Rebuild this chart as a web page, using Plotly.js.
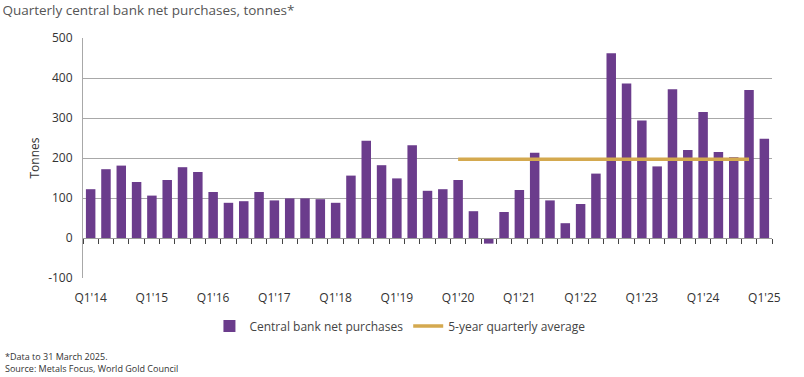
<!DOCTYPE html>
<html>
<head>
<meta charset="utf-8">
<script src="https://cdn.plot.ly/plotly-3.0.1.min.js"></script>
<style>html,body{margin:0;padding:0;background:#fff;}#chart{width:804px;height:377px;}</style>
</head>
<body>
<div id="chart"></div>
<script>
const quarters = [
 "Q1'14","Q2'14","Q3'14","Q4'14","Q1'15","Q2'15","Q3'15","Q4'15",
 "Q1'16","Q2'16","Q3'16","Q4'16","Q1'17","Q2'17","Q3'17","Q4'17",
 "Q1'18","Q2'18","Q3'18","Q4'18","Q1'19","Q2'19","Q3'19","Q4'19",
 "Q1'20","Q2'20","Q3'20","Q4'20","Q1'21","Q2'21","Q3'21","Q4'21",
 "Q1'22","Q2'22","Q3'22","Q4'22","Q1'23","Q2'23","Q3'23","Q4'23",
 "Q1'24","Q2'24","Q3'24","Q4'24","Q1'25"
];
const purchases = [
 122, 172, 181, 140, 106, 145, 177, 165,
 115, 88, 92, 115, 94, 99, 99, 97,
 88, 156, 243, 182, 149, 232, 118, 122,
 145, 67, -14, 65, 120, 213, 94, 37,
 85, 161, 462, 386, 294, 179, 372, 220,
 315, 215, 202, 370, 248
];
const avgQuarters = [
 "Q1'20","Q2'20","Q3'20","Q4'20","Q1'21","Q2'21","Q3'21","Q4'21",
 "Q1'22","Q2'22","Q3'22","Q4'22","Q1'23","Q2'23","Q3'23","Q4'23",
 "Q1'24","Q2'24","Q3'24","Q4'24"
];
const avgValues = [
 197,197,197,197,197,197,197,197,197,197,
 197,197,197,197,197,197,197,197,197,197
];
const tickLabels = ["Q1'14","Q1'15","Q1'16","Q1'17","Q1'18","Q1'19","Q1'20","Q1'21","Q1'22","Q1'23","Q1'24","Q1'25"];
const yTickVals = [-100,0,100,200,300,400,500];
const yTickText = ["-100","0","100","200","300","400","500"];

const idx = q => quarters.indexOf(q);
const xBars = quarters.map((q,i)=>i);
const xAvg = avgQuarters.map(idx);
const tickVals = tickLabels.map(idx);
const boundaries = quarters.map((q,i)=>i-0.5).concat([quarters.length-0.5]);

const font = "'Open Sans', sans-serif";
const traces = [
 {type:'bar', x:xBars, y:purchases, name:'Central bank net purchases',
  marker:{color:'#6b3c8c'}, hoverinfo:'y'},
 {type:'scatter', mode:'lines', x:xAvg, y:avgValues, xaxis:'x2',
  name:'5-year quarterly average', line:{color:'#d4a94f', width:3.5}}
];
const xr = [-0.5, quarters.length-0.5];
const layout = {
 width:804, height:377,
 margin:{l:83, r:32, t:38, b:99},
 paper_bgcolor:'#fff', plot_bgcolor:'#fff',
 font:{family:font, color:'#333', size:12},
 bargap:0.38,
 showlegend:true,
 title:{text:'Quarterly central bank net purchases, tonnes*', x:0.003, xanchor:'left', y:0.985, yanchor:'top',
  font:{family:font, size:13.5, color:'#555'}},
 xaxis:{range:xr, tickmode:'array', tickvals:tickVals, ticktext:tickLabels,
  showgrid:false, zeroline:false, showline:false, ticks:'outside', ticklen:9, tickcolor:'rgba(0,0,0,0)',
  tickfont:{family:font, size:12, color:'#333'}, fixedrange:true},
 xaxis2:{range:xr, overlaying:'x', anchor:'free', position:1/6,
  tickmode:'array', tickvals:boundaries, showticklabels:false,
  ticks:'outside', ticklen:5, tickcolor:'#444', tickwidth:1,
  showline:true, linecolor:'#999', linewidth:1, showgrid:false, zeroline:false},
 yaxis:{range:[-100,500], tickmode:'array', tickvals:yTickVals, ticktext:yTickText,
  showgrid:true, gridcolor:'#a8a8a8', gridwidth:1, zeroline:false,
  showline:true, linecolor:'#a8a8a8', linewidth:1, ticks:'outside', ticklen:7, tickcolor:'rgba(0,0,0,0)',
  tickfont:{family:font, size:12, color:'#333'},
  title:{text:'Tonnes', font:{family:font, size:12, color:'#333'}, standoff:5}},
 legend:{orientation:'h', x:0.46, xanchor:'center', y:-0.14, yanchor:'top',
  font:{family:font, size:12, color:'#444'}, itemwidth:30, tracegroupgap:0},
 annotations:[
  {text:'*Data to 31 March 2025.<br>Source: Metals Focus, World Gold Council', xref:'paper', yref:'paper',
   x:-80/689, xanchor:'left', y:-0.29, yanchor:'top', showarrow:false, align:'left',
   font:{family:font, size:9, color:'#333'}}
 ]
};
Plotly.newPlot('chart', traces, layout, {displayModeBar:false, staticPlot:true});
</script>
</body>
</html>
